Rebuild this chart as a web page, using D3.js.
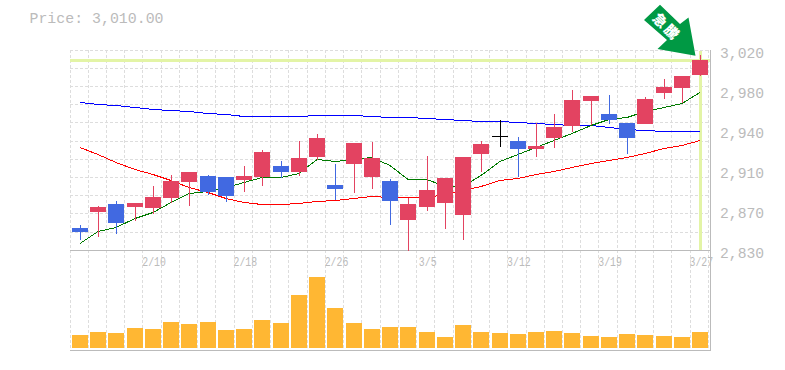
<!DOCTYPE html>
<html><head><meta charset="utf-8">
<script src="https://cdn.jsdelivr.net/npm/d3@7"></script>
<style>html,body{margin:0;padding:0;background:#fff}svg{display:block}
text{font-family:"Liberation Mono",monospace;fill:#bbb}</style></head>
<body><div id="c"></div>
<script>
const dates=["2/4","2/5","2/6","2/7","2/10","2/12","2/13","2/14","2/17","2/18","2/19","2/20","2/21","2/25","2/26","2/27","2/28","3/3","3/4","3/5","3/6","3/7","3/10","3/11","3/12","3/13","3/14","3/17","3/18","3/19","3/20","3/24","3/25","3/26","3/27"];
const open=[2850.9,2866.1,2873.7,2870.9,2869.9,2879.4,2894.6,2900.3,2899.4,2896.5,2899.4,2909.8,2904.1,2918.4,2891.8,2911.7,2899.4,2895.6,2858.5,2870.9,2874.7,2863.3,2921.2,2938.3,2933.6,2926,2936.4,2947.8,2971.6,2959.2,2950.7,2949.7,2979.2,2983.9,2996.3];
const close=[2847.1,2870.9,2855.7,2874.7,2880.4,2895.6,2904.1,2885.1,2881.3,2900.3,2923.1,2904.1,2917.4,2936.4,2888,2931.7,2917.4,2876.6,2873.7,2887,2898.4,2918.4,2930.7,2938.3,2926,2928.8,2946.9,2972.5,2976.3,2953.5,2936.4,2973.5,2984.9,2995.3,3010.5];
const high=[2853.8,2871.8,2876.6,2874.7,2890.8,2901.3,2904.1,2901.3,2899.4,2909.8,2925,2914.6,2933.6,2940.2,2911.7,2931.7,2932.6,2897.5,2879.4,2919.3,2898.4,2918.4,2933.6,2953.5,2937.4,2950.7,2959.2,2982,2976.3,2977.3,2950.7,2975.4,2992.5,2995.3,3015.3];
const low=[2839.5,2842.4,2845.2,2857.6,2864.2,2874.7,2871.8,2882.3,2875.6,2885.1,2890.8,2898.4,2900.3,2915.5,2877.5,2884.2,2888,2853.8,2829.1,2867.1,2850,2839.5,2904.1,2927.9,2899.4,2918.4,2926.9,2942.1,2948.8,2949.7,2921.2,2949.7,2973.5,2969.7,2995.3];
const maShort=[2836.7,2848.1,2851.9,2860.4,2866.1,2875.6,2884.2,2886.1,2889.9,2894.6,2899.4,2899.4,2903.2,2916.5,2914.6,2916.5,2918.4,2910.8,2897.5,2897.5,2890.8,2890.8,2901.3,2914.6,2921.2,2927.9,2934.5,2941.2,2948.8,2954.5,2956.4,2962.1,2965.9,2969.7,2980.1];
const maMid=[2927.9,2921.2,2913.6,2907,2902.2,2896.5,2889.9,2885.1,2879.4,2875.6,2873.7,2873.7,2874.7,2876.6,2877.5,2879.4,2881.3,2880.4,2880.4,2880.4,2883.2,2887,2890.8,2896.5,2898.4,2902.2,2905.1,2908.9,2912.7,2915.5,2918.4,2922.2,2926.9,2929.8,2934.5];
const maLong=[2970.6,2968.7,2967.8,2966.3,2964.4,2963,2962,2960.2,2959.2,2957.3,2957.3,2957.3,2957.3,2957.8,2957.8,2957.8,2957.3,2956.8,2956.4,2955.4,2954.5,2953.5,2953,2952.5,2951.6,2950.7,2949.7,2949.2,2948.8,2946.9,2945,2944,2942.6,2942.6,2942.6];
const volume=[13,16,15,20,19,26,24,26,18,19,28,25,53,71,40,25,19,21,21,16,11,23,16,15,14,16,17,15,12,11,14,13,12,11,16];
const xTickLabels=["2/10","2/18","2/26","3/5","3/12","3/19","3/27"];
const yTickValues=[3020,2982,2944,2906,2868,2830];
const yTickLabels=["3,020","2,980","2,940","2,910","2,870","2,830"];
const priceLabel="Price: 3,010.00";
const lastPrice=3010.5;
const badgeText="急騰";

const W=785,H=370,mono='"Liberation Mono",monospace';
const svg=d3.select("#c").append("svg").attr("width",W).attr("height",H);
const x=d3.scaleBand().domain(dates).range([71,71+35*18.24]);
const y=d3.scaleLinear().domain([2830,3020]).range([250,50]);
const v=d3.scaleLinear().domain([0,80]).range([348,268]);
const cx=d=>Math.round(x(d)+1)+8;
const py=p=>Math.round(y(p));

// grid
const grid=svg.append("g").attr("stroke","#ddd").attr("stroke-dasharray","3,2").attr("shape-rendering","crispEdges");
d3.range(36).forEach(i=>{const gx=Math.floor(70+18.24*i)+.5;
  grid.append("line").attr("x1",gx).attr("x2",gx).attr("y1",50).attr("y2",350);});
d3.range(12).forEach(i=>{const gy=Math.floor(50+18.2*i+.001)+.5;
  grid.append("line").attr("x1",70).attr("x2",710).attr("y1",gy).attr("y2",gy);});

// frame
const frame=svg.append("g").attr("stroke","#bbb").attr("shape-rendering","crispEdges");
frame.append("line").attr("x1",70).attr("x2",711).attr("y1",250.5).attr("y2",250.5);
frame.append("line").attr("x1",70).attr("x2",711).attr("y1",350.5).attr("y2",350.5);
frame.append("line").attr("x1",710.5).attr("x2",710.5).attr("y1",50).attr("y2",351);

// last-price highlight
const lime="#e3f4a6";
svg.append("rect").attr("x",70).attr("width",640).attr("y",py(lastPrice)-1).attr("height",3).attr("fill",lime);
svg.append("rect").attr("x",cx(dates[34])-1).attr("width",3).attr("y",51).attr("height",199).attr("fill",lime);

// x labels
const xAxis=d3.axisBottom(x).tickValues(xTickLabels).tickSize(0).tickPadding(0);
const gx=svg.append("g").attr("transform","translate(1,0)").call(xAxis);
gx.select(".domain").remove();
gx.selectAll("text").attr("y",266).attr("dy",null).attr("font-size",12)
  .style("font-family",mono).attr("fill","#bbb")
  .attr("lengthAdjust","spacingAndGlyphs").attr("textLength",d=>d.length*5.9);

// y labels
const yAxis=d3.axisRight(y).tickValues(yTickValues).tickFormat((d,i)=>yTickLabels[i]).tickSize(0).tickPadding(0);
const gy=svg.append("g").attr("transform","translate(720,3)").call(yAxis);
gy.select(".domain").remove();
gy.selectAll("text").attr("font-size",14.7).style("font-family",mono).attr("fill","#bbb");

svg.append("text").attr("x",29.5).attr("y",23).attr("font-size",14.9).text(priceLabel);

// moving averages
const line=d3.line().x((d,i)=>cx(dates[i])).y(d=>py(d));
[[maLong,"#0000ff"],[maMid,"#ff0000"],[maShort,"#007a00"]].forEach(([s,c])=>
  svg.append("path").attr("d",line(s)).attr("fill","none").attr("stroke",c).attr("stroke-width",1)
    .attr("shape-rendering","crispEdges").attr("transform","translate(0,.5)"));

// candles
const red="#e34361",blue="#4169e1",black="#000";
const colour=i=>close[i]>open[i]?red:close[i]<open[i]?blue:black;
const candles=svg.append("g").attr("shape-rendering","crispEdges");
dates.forEach((d,i)=>{
  const c=colour(i),mx=cx(d);
  candles.append("line").attr("x1",mx+.5).attr("x2",mx+.5).attr("y1",py(high[i])).attr("y2",py(low[i])).attr("stroke",c);
  const t=py(Math.max(open[i],close[i])),b=py(Math.min(open[i],close[i]));
  if(b===t){candles.append("line").attr("x1",mx-8).attr("x2",mx+8).attr("y1",t+.5).attr("y2",t+.5).attr("stroke",c);}
  else candles.append("rect").attr("x",mx-8).attr("width",16).attr("y",t).attr("height",b-t).attr("fill",c);
});

// volume
svg.append("g").attr("shape-rendering","crispEdges").selectAll("rect").data(volume).join("rect")
  .attr("x",(d,i)=>cx(dates[i])-8).attr("width",16)
  .attr("y",d=>v(d)).attr("height",d=>v(0)-v(d)).attr("fill","#ffb733");

// badge arrow
const arrow=[[660,4.7],[680,24],[688.5,17.5],[695.5,55.7],[657.5,49],[667,40],[644,20]];
svg.append("path").attr("d",d3.line()(arrow)+"Z").attr("fill","#009944");
svg.append("text").attr("transform","translate(666.5,27) rotate(45)").attr("text-anchor","middle").attr("dy","0.36em")
  .style("font-family",'"Noto Sans CJK JP"').style("font-weight","900").style("fill","#fff")
  .style("letter-spacing","2px").attr("font-size",14).text(badgeText);
</script></body></html>
